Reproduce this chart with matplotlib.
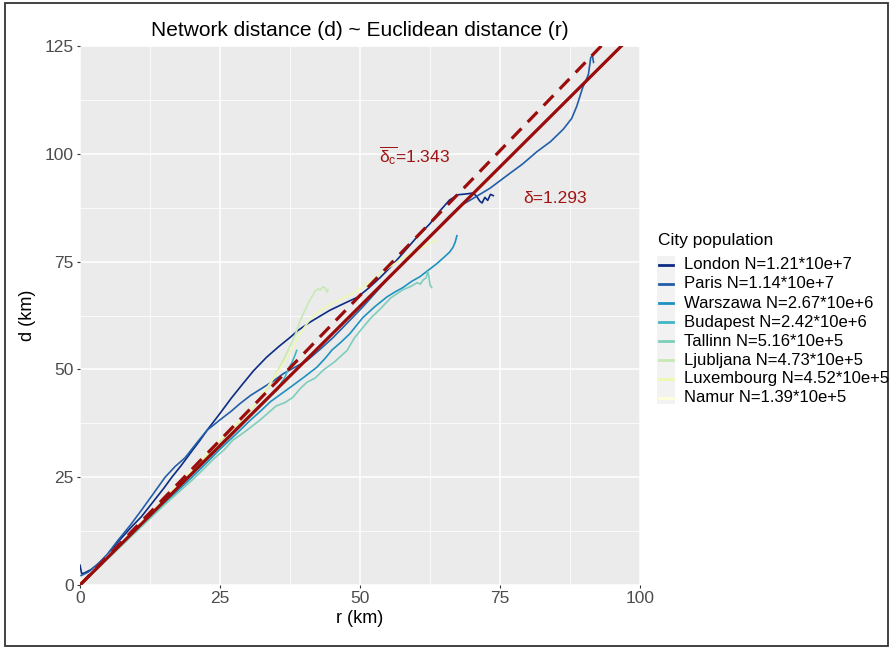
import matplotlib

matplotlib.use("Agg")
import matplotlib.pyplot as plt
import numpy as np
from matplotlib.lines import Line2D
from matplotlib.patches import Rectangle

plt.rcParams["font.family"] = ["Liberation Sans", "DejaVu Sans"]
plt.rcParams["mathtext.fontset"] = "custom"
plt.rcParams["mathtext.rm"] = "Liberation Sans"
plt.rcParams["mathtext.it"] = "Liberation Sans"

# network distance d (km) against euclidean distance r (km)
london_r = [0, 0.3, 0.8, 2, 3.5, 5, 7, 9, 11, 13, 15, 16.4, 18, 18.75, 20, 21.4, 22.7, 25, 27,
            29.1, 31, 33.3, 35.5, 37.5, 39, 41, 42.8, 44.6, 47, 49.5, 51.5, 53.6, 55.5, 57.7,
            60.1, 62.5, 64.3, 66, 67.5, 69, 70.2, 70.8, 71.4, 71.8, 72.3, 72.8, 73.3, 73.8]
london_d = [4.6, 2.6, 2.8, 3.6, 5.2, 7.2, 10.3, 13.2, 15.9, 19.2, 22.5, 25, 27.6, 28.9, 31.1,
            33.5, 35.9, 39.8, 43.3, 46.7, 49.7, 52.8, 55.3, 57.4, 59.1, 60.9, 62.3, 63.7, 65.2,
            66.7, 68.8, 71.3, 73.8, 77.0, 80.6, 83.8, 86.8, 89.3, 90.5, 90.7, 90.9, 90.2, 89.0,
            88.6, 89.9, 89.2, 90.6, 90.3]

paris_r = [0.2, 1.5, 3, 4.8, 6.8, 9, 11, 13, 15.2, 17, 18.75, 21, 22.7, 25, 27, 28.6, 30.5,
           32.7, 34.5, 36.3, 38.5, 40.5, 43, 45.2, 47.6, 50.5, 53.6, 57.7, 60.5, 63.7, 66, 68,
           70, 73.2, 76.8, 79, 81.6, 84, 86.3, 87.8, 88.7, 89.8, 90.3, 90.8, 91.2, 91.5, 91.7]
paris_d = [2.2, 3.0, 4.6, 7.0, 10.4, 13.9, 17.4, 21.0, 25.0, 27.5, 29.5, 33.2, 35.9, 38.3,
           40.3, 42.1, 44.0, 45.8, 47.3, 49.0, 50.6, 52.0, 54.8, 57.4, 60.6, 64.5, 69.0, 74.8,
           78.4, 82.5, 85.6, 88.0, 89.5, 92.0, 95.5, 97.6, 100.5, 102.8, 105.7, 108.2, 111.0,
           115.5, 116.8, 118.5, 122.3, 122.8, 121.2]

warszawa_r = [0, 2.5, 5, 7.5, 10, 12.5, 15, 17.5, 20, 22.5, 25, 27.7, 30.4, 32.3, 34, 35.8,
              37.5, 40, 42.3, 43.8, 45, 46.6, 48.2, 50.5, 52.6, 54.8, 56.3, 57.7, 59.2, 60.7,
              62.2, 63.7, 65, 66, 66.6, 67.0, 67.3]
warszawa_d = [0, 3.1, 6.3, 9.5, 12.6, 15.7, 18.9, 21.9, 25.0, 28.2, 31.5, 34.8, 38.2, 40.4,
              42.5, 44.2, 45.8, 48.2, 50.5, 52.6, 54.5, 56.3, 58.3, 62.0, 64.5, 66.8, 68.0,
              69.0, 70.4, 71.5, 73.0, 74.5, 76.0, 77.2, 78.3, 79.5, 81.0]

budapest_r = [0, 2.5, 5, 7.5, 10, 12.5, 15, 17.5, 20, 22.5, 25, 27.5, 30, 32.3, 34.5, 35.3,
              36, 36.6, 37.2, 37.8, 38.3, 38.7]
budapest_d = [0, 3.2, 6.4, 9.6, 12.8, 16.0, 19.2, 22.4, 25.6, 28.8, 32.0, 35.3, 38.6, 41.5,
              44.4, 45.3, 47.0, 48.2, 50.1, 51.5, 53.0, 54.4]

tallinn_r = [0, 2.5, 5, 7.5, 10, 12.5, 15, 17.5, 20, 22, 24, 25.7, 27.3, 29.5, 32.1, 33.6, 35,
             36.6, 38, 39.3, 40.5, 42, 43.4, 45.5, 47.7, 49, 50.5, 52, 53.6, 55.5, 57.7, 59,
             60.2, 60.8, 61.3, 61.8, 62.1, 62.3, 62.5, 62.8]
tallinn_d = [0, 3.0, 6.1, 9.2, 12.3, 15.4, 18.5, 21.4, 24.3, 26.8, 29.4, 31.3, 33.6, 35.6,
             38.2, 39.9, 41.5, 42.3, 43.5, 45.5, 47.0, 48.0, 49.8, 51.8, 54.4, 57.3, 59.7,
             62.0, 64.0, 66.6, 68.5, 69.2, 70.1, 69.8, 70.8, 71.2, 72.7, 71.6, 69.6, 69.0]

ljubljana_r = [0, 2.5, 5, 7.5, 10, 12.5, 15, 17.5, 20, 22.5, 25, 27.5, 30, 31.8, 33.5, 35.2,
               36.2, 37.0, 37.8, 38.5, 39.3, 40.2, 41.0, 41.6, 42.0, 42.5, 42.9, 43.4, 43.8,
               44.1, 44.3]
ljubljana_d = [0, 3.4, 6.7, 10.0, 13.2, 16.5, 19.8, 23.2, 26.5, 29.8, 33.2, 36.4, 39.8, 42.6,
               45.6, 49.5, 51.8, 54.0, 56.3, 58.2, 61.3, 63.8, 66.0, 67.2, 68.2, 68.7, 68.4,
               69.2, 68.8, 67.9, 68.5]

luxembourg_r = [0, 2.5, 5, 7.5, 10, 12.5, 15, 17.5, 20, 22.5, 25, 27.7, 30.4, 32.2, 33.9,
                35.5, 37, 38.2, 39.3, 40.2, 41, 42.2, 43.5, 45, 46.4, 48.5, 50.5, 52, 53.6,
                55.6, 57.7, 59.5, 61, 62.5, 63.7]
luxembourg_d = [0, 3.3, 6.6, 9.9, 13.2, 16.6, 19.9, 23.3, 26.7, 30.1, 33.6, 37.0, 40.5, 43.6,
                46.7, 49.8, 52.8, 55.6, 58.3, 60.0, 61.5, 63.0, 64.2, 65.2, 66.2, 67.4, 69.0,
                70.5, 72.2, 74.0, 75.9, 77.2, 78.2, 79.3, 80.0]

namur_r = [0, 1.5, 3, 5, 7, 9, 11, 13]
namur_d = [0.8, 2.3, 4.2, 6.8, 9.5, 12.1, 14.7, 17.3]

city_labels = ["London N=1.21*10e+7", "Paris N=1.14*10e+7", "Warszawa N=2.67*10e+6",
               "Budapest N=2.42*10e+6", "Tallinn N=5.16*10e+5", "Ljubljana N=4.73*10e+5",
               "Luxembourg N=4.52*10e+5", "Namur N=1.39*10e+5"]
city_colors = ["#0c2c84", "#225ea8", "#1d91c0", "#41b6c4", "#7fcdbb", "#c7e9b4",
               "#edf8b1", "#ffffd9"]

# fitted slopes: pooled (solid) and mean of city slopes (dashed)
delta = 1.293
delta_c = 1.343

curves = [(london_r, london_d), (paris_r, paris_d), (warszawa_r, warszawa_d),
          (budapest_r, budapest_d), (tallinn_r, tallinn_d), (ljubljana_r, ljubljana_d),
          (luxembourg_r, luxembourg_d), (namur_r, namur_d)]

W, H = 891, 648
fig = plt.figure(figsize=(W / 100, H / 100), dpi=100)
ax = fig.add_axes([80 / W, 1 - 585 / H, 560 / W, 539 / H])
ax.set_facecolor("#ebebeb")
for s in ax.spines.values():
    s.set_visible(False)

for (r, d), c in zip(curves, city_colors):
    ax.plot(r, d, color=c, lw=1.2, zorder=3)

xs = np.array([0, 100])
ax.plot(xs, delta * xs, color="#9b0d0d", lw=2.3, zorder=4)
ax.plot(xs, delta_c * xs, color="#9b0d0d", lw=2.3, ls=(0, (4.4, 2.8)), zorder=4)

ax.text(59.8, 99.5, r"$\overline{\mathrm{\delta}_{\mathrm{c}}}$=1.343", color="#a01414",
        fontsize=12.5, ha="center", va="center")
ax.text(84.8, 89.6, "\u03b4=1.293", color="#a01414", fontsize=12.5,
        ha="center", va="center")

ax.set_xlim(0, 100)
ax.set_ylim(0, 125)
ax.set_xticks([0, 25, 50, 75, 100])
ax.set_yticks([0, 25, 50, 75, 100, 125])
ax.set_xticks([12.5, 37.5, 62.5, 87.5], minor=True)
ax.set_yticks([12.5, 37.5, 62.5, 87.5, 112.5], minor=True)
ax.grid(True, which="major", color="white", lw=1.1)
ax.grid(True, which="minor", color="white", lw=0.55)
ax.set_axisbelow(True)
ax.tick_params(which="major", length=2.5, width=0.8, color="#333333",
               labelsize=12.5, labelcolor="#4d4d4d", pad=2)
ax.tick_params(which="minor", length=0)

ax.set_xlabel("r (km)", fontsize=13, labelpad=3)
ax.set_ylabel("d (km)", fontsize=13, labelpad=6)
fig.text(360 / W, 1 - 30 / H, "Network distance (d) ~ Euclidean distance (r)",
         fontsize=15, ha="center", va="center")

# legend drawn by hand so the row pitch matches the reference
fig.text(658 / W, 1 - 241 / H, "City population", fontsize=12.5, va="center")
fig.add_artist(Rectangle((657 / W, 1 - 404 / H), 18 / W, 148 / H,
                         transform=fig.transFigure, facecolor="#f2f2f2", edgecolor="none"))
for i, (lab, c) in enumerate(zip(city_labels, city_colors)):
    y = 1 - (265 + i * 19) / H
    fig.add_artist(Line2D([659 / W, 673 / W], [y, y], color=c, lw=2,
                          transform=fig.transFigure))
    fig.text(684 / W, y, lab, fontsize=12, va="center")

fig.add_artist(Rectangle((5 / W, 1 - 646 / H), 883 / W, 643 / H, transform=fig.transFigure,
                         facecolor="none", edgecolor="#333333", lw=1.3))

fig.savefig("out.png", dpi=100)
